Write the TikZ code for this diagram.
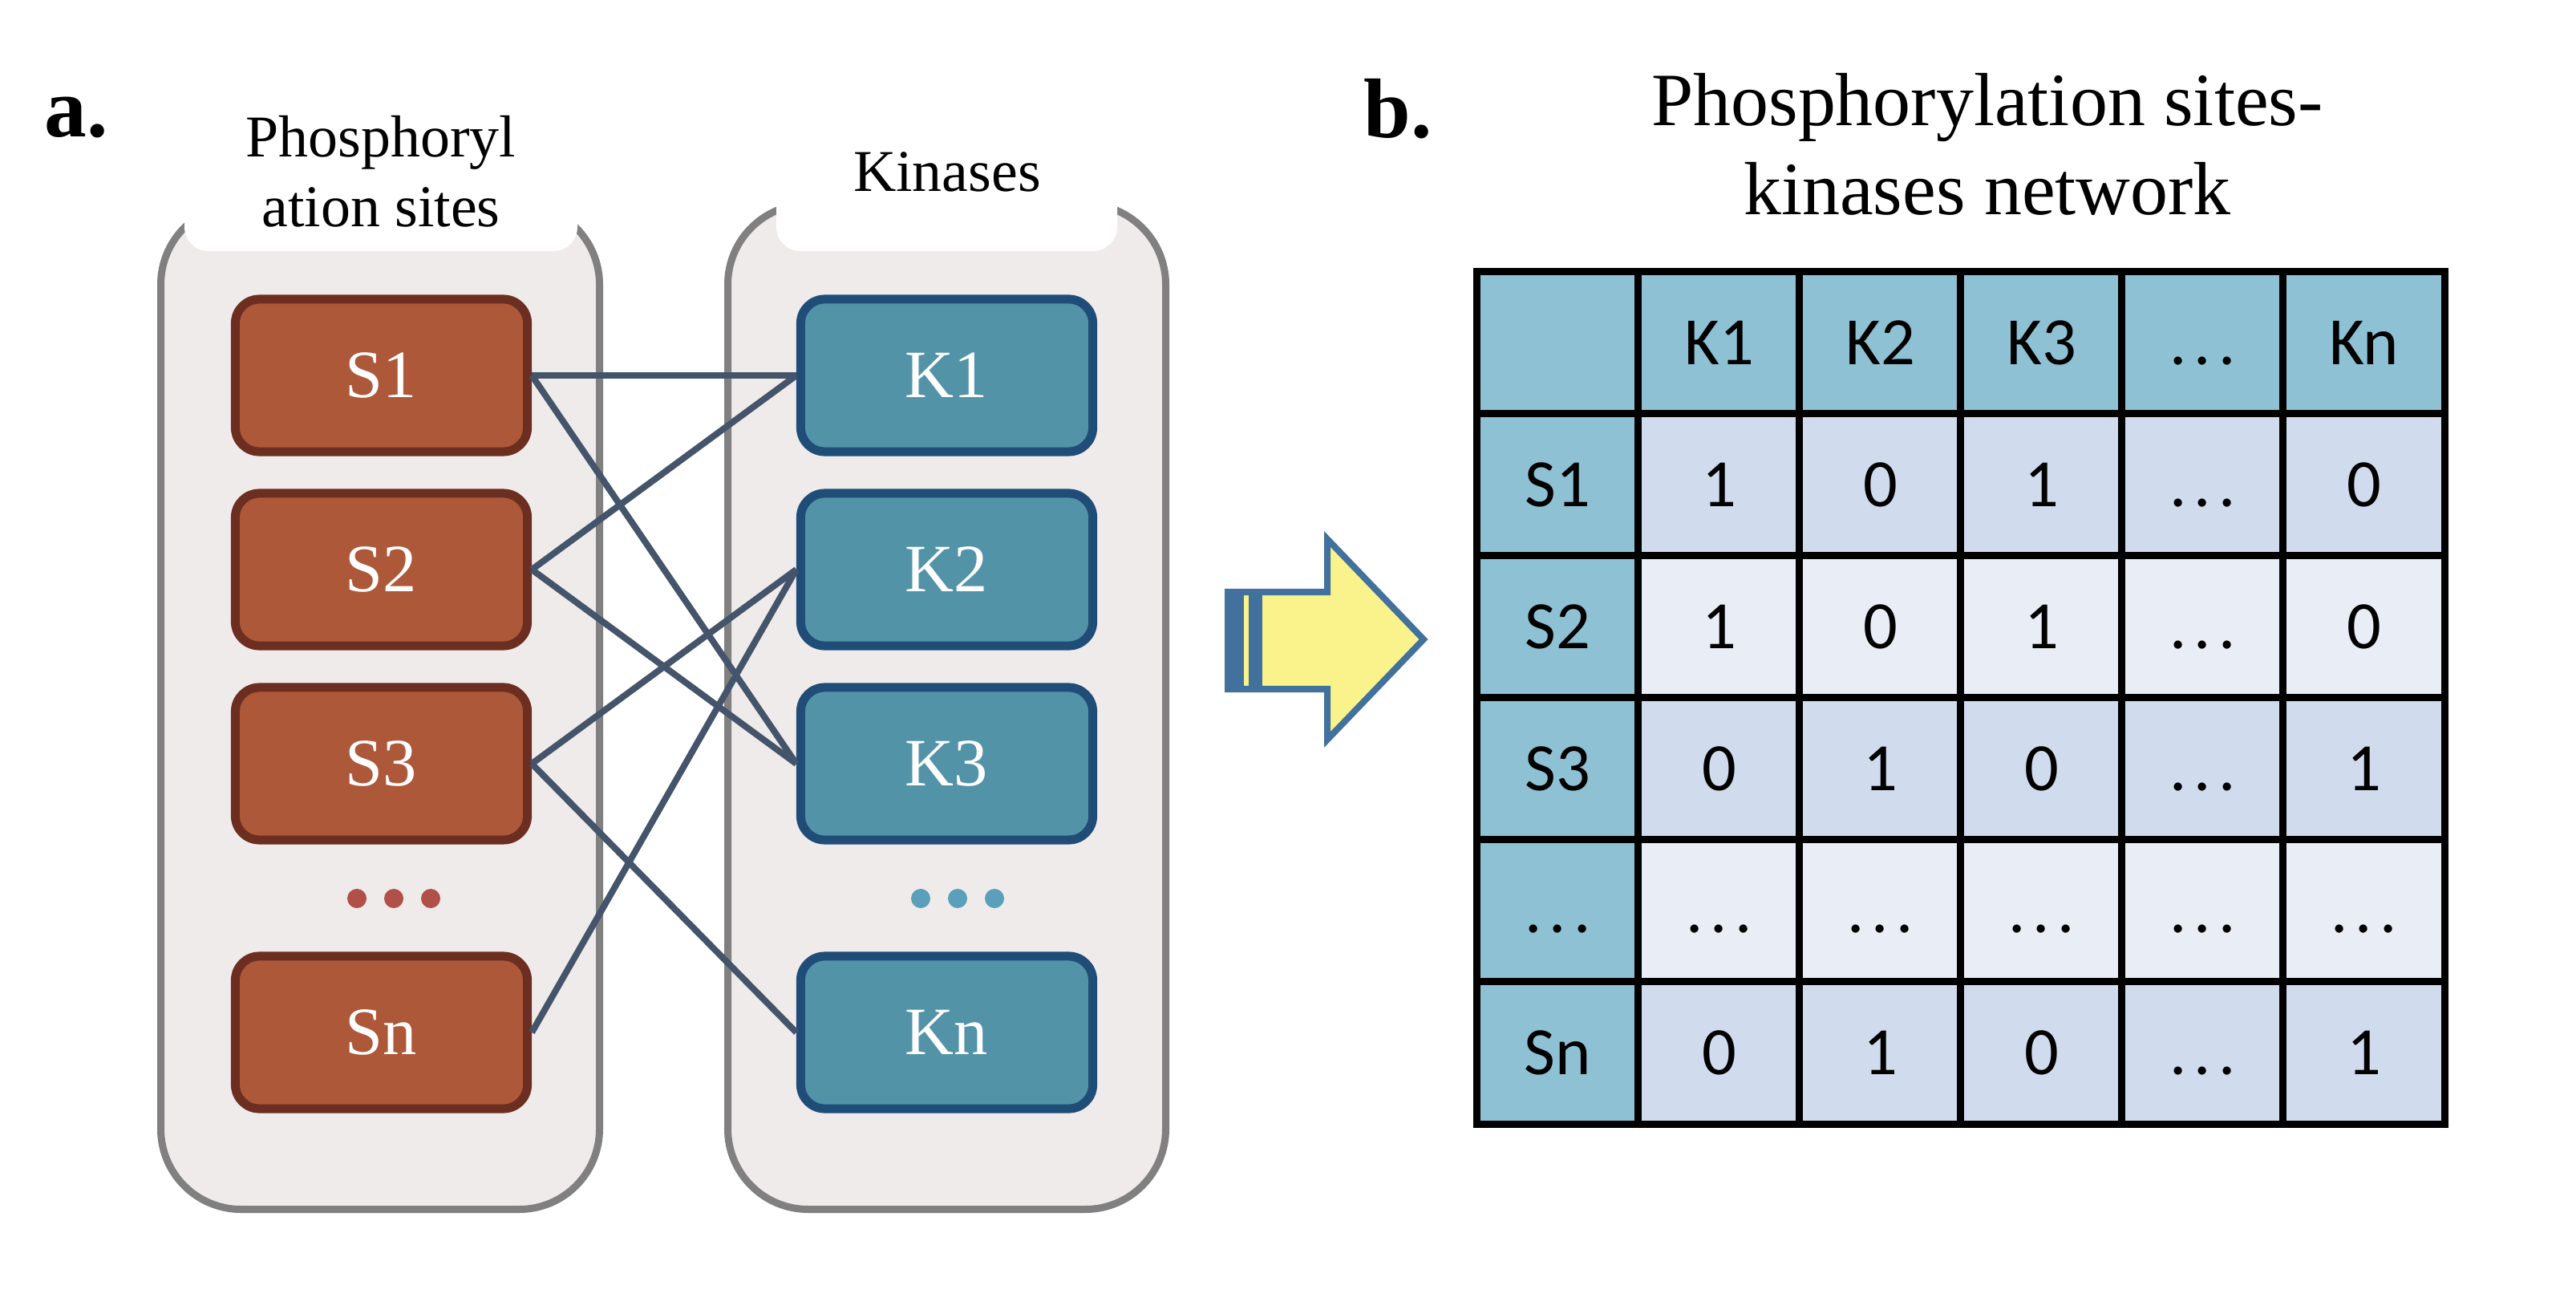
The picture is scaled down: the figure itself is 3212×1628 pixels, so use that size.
\documentclass[tikz,border=0pt]{standalone}
\usepackage{fontspec}
\setmainfont{Liberation Serif}
\newfontfamily\tablefont{Carlito}
\definecolor{frameGray}{RGB}{128,128,128}
\definecolor{frameFill}{RGB}{240,235,235}
\definecolor{siteFill}{RGB}{174,88,58}
\definecolor{siteLine}{RGB}{108,46,32}
\definecolor{kinaseFill}{RGB}{83,147,168}
\definecolor{kinaseLine}{RGB}{31,77,120}
\definecolor{linkColor}{RGB}{68,84,106}
\definecolor{siteDot}{RGB}{176,80,72}
\definecolor{kinaseDot}{RGB}{90,160,186}
\definecolor{arrowLine}{RGB}{65,113,156}
\definecolor{arrowFill}{RGB}{250,243,139}
\definecolor{headFill}{RGB}{142,193,211}
\definecolor{rowOne}{RGB}{208,220,238}
\definecolor{rowTwo}{RGB}{233,237,246}
\newcommand{\cellDots}{.\kern0.11em.\kern0.11em.}
\tikzstyle{groupFrame}=[draw=frameGray,fill=frameFill,line width=0.09cm,rounded corners=1cm]
\tikzstyle{frameTab}=[fill=white,rounded corners=0.3cm]
\tikzstyle{groupLabel}=[align=center,anchor=base,inner sep=0pt,font=\fontsize{21}{25}\selectfont]
\tikzstyle{siteBox}=[rectangle,rounded corners=0.3cm,minimum width=3.64cm,minimum height=1.9cm,line width=0.11cm,draw=siteLine,fill=siteFill,text=white,font=\fontsize{24}{28}\selectfont]
\tikzstyle{kinaseBox}=[siteBox,draw=kinaseLine,fill=kinaseFill]
\tikzstyle{linkLine}=[draw=linkColor,line width=0.08cm]
\tikzstyle{tableCell}=[rectangle,draw=black,line width=0.09cm,minimum width=2.01cm,minimum height=1.77cm,inner sep=0pt,text height=0.54cm,text depth=0pt,font=\tablefont\fontsize{24}{28}\selectfont]
\tikzstyle{headCell}=[tableCell,fill=headFill]
\tikzstyle{cellOne}=[tableCell,fill=rowOne]
\tikzstyle{cellTwo}=[tableCell,fill=rowTwo]
\tikzstyle{panelLabel}=[anchor=base west,inner sep=0pt,font=\bfseries\fontsize{30}{36}\selectfont]

\begin{document}
\begin{tikzpicture}[x=0.01cm,y=-0.01cm]
\useasboundingbox (0,0) rectangle (3212,1628);
% a. sites and kinases
\node[panelLabel] (panelA) at (55,171) {a.};
\draw[groupFrame] (200.5,254.5) rectangle (747.5,1507.5);
\draw[groupFrame] (907.5,254.5) rectangle (1453.5,1507.5);
\fill[frameTab] (230,180) rectangle (720,313);
\fill[frameTab] (968,180) rectangle (1393,313);
\node[groupLabel] (siteLabel) at (475,283) {Phosphoryl\\ation sites};
\node[groupLabel] (kinaseLabel) at (1181,239) {Kinases};
        \foreach \n/\y in {1/468,2/710,3/952,n/1287} {
                \node[siteBox] (S\n) at (475.5,\y) {S\n};
                \node[kinaseBox] (K\n) at (1180.5,\y) {K\n};
        }
        \foreach \x in {0,1,2} {
                \fill[siteDot] ({445+46*\x},1120) circle[radius=0.12cm];
                \fill[kinaseDot] ({1148+46*\x},1120) circle[radius=0.12cm];
        }
        \foreach \s/\k in {1/1,1/3,2/1,2/3,3/2,3/n,n/2}
                \draw[linkLine] (S\s.east) -- (K\k.west);
% arrow
\filldraw[fill=arrowFill,draw=arrowLine,line width=0.08cm] (1531,738) -- (1655,738) -- (1655,672) -- (1775,797) -- (1655,922) -- (1655,859) -- (1531,859) -- cycle;
\fill[arrowLine] (1527,734) rectangle (1551,863);
\fill[arrowLine] (1557,734) rectangle (1574,863);
% b. network table
\node[panelLabel] (panelB) at (1700,172) {b.};
\node[align=center,anchor=base,inner sep=0pt,font=\fontsize{26.7}{31.6}\selectfont] (title) at (2478,268) {Phosphorylation sites-\\kinases network};
\node[headCell] (h0) at (1942.5,427.5) {};
        \foreach \k [count=\j] in {K1,K2,K3,\cellDots,Kn}
                \node[headCell] (h\j) at ({1942.5+201*\j},427.5) {\k};
        \foreach \lab/\va/\vb/\vc/\vd/\ve/\shade [count=\i] in {S1/1/0/1/\cellDots/0/cellOne,S2/1/0/1/\cellDots/0/cellTwo,S3/0/1/0/\cellDots/1/cellOne,\cellDots/\cellDots/\cellDots/\cellDots/\cellDots/\cellDots/cellTwo,Sn/0/1/0/\cellDots/1/cellOne} {
                \node[headCell] (r\i-0) at (1942.5,{427.5+177*\i}) {\lab};
                \foreach \v [count=\j] in {\va,\vb,\vc,\vd,\ve}
                        \node[\shade] (r\i-\j) at ({1942.5+201*\j},{427.5+177*\i}) {\v};
        }
\end{tikzpicture}
\end{document}
